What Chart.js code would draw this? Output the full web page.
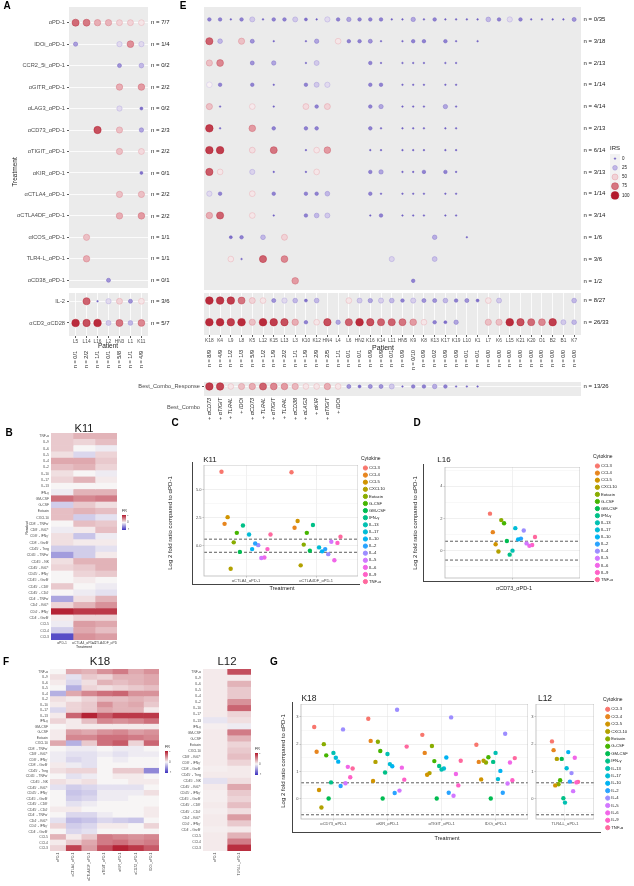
<!DOCTYPE html>
<html><head><meta charset="utf-8">
<script src="https://cdn.jsdelivr.net/npm/chart.js@4.4.1/dist/chart.umd.min.js"></script>
<style>
body{margin:0;background:#fff;}
#fig{position:relative;width:634px;height:886px;overflow:hidden;font-family:"Liberation Sans",Arial,sans-serif;color:#1a1a1a;}
canvas{position:absolute;}
.t{position:absolute;white-space:nowrap;line-height:1;}
.frame{position:absolute;border-left:1px solid #444;border-bottom:1px solid #444;}
</style></head><body><div id="fig"></div><script>
const _ = null;

// ---------- A / E : IRS per patient and treatment ----------
const treatments = ['αPD-1','IDOi_αPD-1','CCR2_5i_αPD-1','αGITR_αPD-1','αLAG3_αPD-1','αCD73_αPD-1','αTIGIT_αPD-1','αKIR_αPD-1','αCTLA4_αPD-1','αCTLA4DF_αPD-1','αICOS_αPD-1','TLR4-L_αPD-1','αCD38_αPD-1'];
const controls = ['IL-2','αCD3_αCD28'];

const patientsA = ['L5','L14','L16','L2','HN3','L1','K11'];
const irsA = [
  [78,74,60,58,50,50,45],
  [18,_,_,_,35,68,35],
  [_,_,_,_,15,_,25],
  [_,_,_,_,60,_,65],
  [_,_,_,_,35,_,5],
  [_,_,85,_,55,_,20],
  [_,_,_,_,55,_,48],
  [_,_,_,_,_,_,5],
  [_,_,_,_,55,_,55],
  [_,_,_,_,60,_,65],
  [_,55,_,_,_,_,_],
  [_,60,_,_,_,_,_],
  [_,_,_,15,_,_,_]
];
const irsActrl = [
  [_,80,0,35,50,15,45],
  [95,85,95,30,75,25,70]
];
const nTreatA = ['n = 7/7','n = 1/4','n = 0/2','n = 2/2','n = 0/2','n = 2/3','n = 2/2','n = 0/1','n = 2/2','n = 2/2','n = 1/1','n = 1/1','n = 0/1'];
const nCtrlA = ['n = 3/6','n = 5/7'];
const nPatientA = ['n = 0/1','n = 2/2','n = 1/1','n = 0/1','n = 5/8','n = 1/1','n = 4/9'];

const patientsE = ['K18','K4','L9','L8','K5','L12','K15','L13','L3','K10','K12','HN4','L4','L6','HN2','K16','K14','L11','HN5','K9','K8','K13','K17','K19','L10','K1','L7','K6','L15','K21','K20','O1','B2','B1','K7'];
const irsE = [
  [10,10,0,10,30,0,10,10,30,5,0,35,10,20,10,10,10,0,0,20,0,10,0,0,0,0,25,10,35,10,0,0,0,0,15],
  [80,25,_,55,15,_,0,_,_,0,20,_,45,10,10,15,0,_,0,10,10,_,10,0,_,0,_,_,_,_,_,_,_,_,_],
  [55,70,_,_,15,_,20,_,_,0,30,_,_,_,_,10,0,_,0,0,0,_,0,0,_,_,_,_,_,_,_,_,_,_,_],
  [42,10,_,_,10,_,0,_,_,10,30,35,_,_,_,10,10,_,0,0,0,_,0,0,_,_,_,_,_,_,_,_,_,_,_],
  [55,0,_,_,44,_,0,_,_,48,10,50,_,_,_,10,20,_,0,0,0,_,20,0,_,_,_,_,_,_,_,_,_,_,_],
  [90,0,_,_,65,_,10,_,_,10,10,_,_,_,_,10,0,_,0,0,0,_,0,0,_,_,_,_,_,_,_,_,_,_,_],
  [90,90,_,_,47,_,75,_,_,0,45,65,_,_,_,0,0,_,0,0,0,_,0,0,_,_,_,_,_,_,_,_,_,_,_],
  [82,45,_,_,33,_,0,_,_,0,45,_,_,_,_,10,20,_,0,0,10,_,10,0,_,_,_,_,_,_,_,_,_,_,_],
  [35,10,_,_,45,_,10,_,_,10,10,25,_,_,_,10,0,_,0,0,0,_,0,0,_,_,_,_,_,_,_,_,_,_,_],
  [60,80,_,_,45,_,0,_,_,10,25,30,_,_,_,0,10,_,0,0,0,_,0,0,_,_,_,_,_,_,_,_,_,_,_],
  [_,_,5,10,_,25,_,50,_,_,_,_,_,_,_,_,_,_,_,_,_,22,_,_,0,_,_,_,_,_,_,_,_,_,_],
  [_,_,45,0,_,80,_,70,_,_,_,_,_,_,_,_,_,33,_,_,_,28,_,_,_,_,_,_,_,_,_,_,_,_,_],
  [_,_,_,_,_,_,_,_,65,_,_,_,_,_,_,_,_,_,_,10,_,_,_,_,_,_,_,_,_,_,_,_,_,_,_]
];
const irsEctrl = [
  [95,92,90,75,50,45,15,35,25,5,25,_,_,45,30,20,32,25,10,32,15,15,25,10,15,5,45,30,_,_,_,_,_,_,25],
  [95,95,90,95,55,95,90,85,60,10,45,85,20,80,95,85,80,80,75,65,45,10,5,20,_,_,55,55,95,85,78,70,90,30,25]
];
const nTreatE = ['n = 0/35','n = 3/18','n = 2/13','n = 1/14','n = 4/14','n = 2/13','n = 6/14','n = 3/13','n = 1/14','n = 3/14','n = 1/6','n = 3/6','n = 1/2'];
const nCtrlE = ['n = 8/27','n = 26/33'];
const nPatientE = ['n = 8/9','n = 4/9','n = 1/2','n = 1/3','n = 5/9','n = 1/2','n = 1/9','n = 2/2','n = 1/1','n = 1/9','n = 2/9','n = 2/5','n = 1/1','n = 0/1','n = 0/1','n = 0/9','n = 0/9','n = 0/1','n = 0/9','n = 0/10','n = 0/9','n = 0/2','n = 0/9','n = 0/9','n = 0/1','n = 0/1','n = 0/0','n = 0/0','n = 0/0','n = 0/0','n = 0/0','n = 0/0','n = 0/0','n = 0/0','n = 0/0'];
const bestCombo = ['+ αCD73','+ αTIGIT','+ TLR4L','+ IDOi','+ αCD73','+ TLR4L','+ αTIGIT','+ TLR4L','+ αCD38','+ αLAG3','+ αKIR','+ αTIGIT','+ IDOi','','','','','','','','','','','','','','','','','','','','','',''];
const bestComboIrs = [90,88,45,55,60,80,70,65,57,45,45,60,45,15,5,15,15,30,0,10,10,22,10,0,0,0,_,_,_,_,_,_,_,_,_];
const irsKeys = [0,25,50,75,100];

// ---------- B / F : fold-ratio heatmaps ----------
const readoutsK = ['TNF-α','IL-9','IL-6','IL-5','IL-4','IL-2','IL-10','IL-17','IL-13','IFN-γ','GM-CSF','G-CSF','Eotaxin','CXCL10','CD8⁺ - TNFα⁺','CD8⁺ - Ki67⁺','CD8⁺ - IFNγ⁺','CD8⁺ - GrzB⁺','CD45⁺ - Treg','CD45⁺ - TNFα⁺','CD45⁺ - NK','CD45⁺ - Ki67⁺','CD45⁺ - IFNγ⁺','CD45⁺ - GrzB⁺','CD45⁺ - CD8⁺','CD45⁺ - CD4⁺','CD4⁺ - TNFα⁺','CD4⁺ - Ki67⁺','CD4⁺ - IFNγ⁺','CD4⁺ - GrzB⁺','CCL5','CCL4','CCL3'];
const readoutsL12 = ['TNF-α','IL-9','IL-6','IL-5','IL-4','IL-2','IL-10','IL-17','IL-13','IFN-γ','GM-CSF','G-CSF','Eotaxin','CXCL10','CD8⁺ - Ki67⁺','CD8⁺ - IFNγ⁺','CD8⁺ - GrzB⁺','CD45⁺ - Treg','CD45⁺ - NK','CD45⁺ - Ki67⁺','CD45⁺ - IFNγ⁺','CD45⁺ - GrzB⁺','CD45⁺ - CD8⁺','CD45⁺ - CD4⁺','CD4⁺ - Ki67⁺','CD4⁺ - IFNγ⁺','CD4⁺ - GrzB⁺','CCL5','CCL4','CCL3'];
const treatK11 = ['αPD-1','αCTLA4_αPD-1','αCTLA4DF_αPD-1'];
const treatK18 = ['αPD-1','αCTLA4_αPD-1','αCTLA4DF_αPD-1','αTIGIT_αPD-1','αKIR_αPD-1','αCD73_αPD-1','IDOi_αPD-1'];
const treatL12 = ['αPD-1','TLR4-L_αPD-1'];
const heatK11 = [
  [0.2,0.3,0.3],[0.2,0.15,0.25],[0.2,0,-0.05],[0.1,-0.15,0.15],[0.35,0.35,0.2],[0.25,0.3,0.15],
  [0.1,0,-0.05],[0.15,0.3,0.05],[0,0,0],[-0.05,0.3,0.3],[0.6,0.5,0.55],[-0.2,0.2,0.1],
  [0.25,0.3,0.25],[0.25,-0.2,-0.1],[0,0.25,0.2],[-0.05,0.05,0.25],[0.1,-0.25,-0.05],[0.1,0.05,0.05],
  [-0.2,-0.2,-0.1],[-0.45,-0.2,0.05],[0.1,0.3,0.3],[0.15,0.2,0.3],[0,0.15,0.2],[0,0.05,0],
  [0.2,0,-0.05],[0,-0.05,-0.1],[-0.4,0.1,0.3],[0.15,0.3,0.45],[0.95,0.85,0.85],[0.05,0.15,0.15],
  [-0.05,0.4,0.35],[-0.2,0.35,0.25],[-0.85,0.45,0.4]
];
const heatK18 = [
  [0,0.35,0.3,0.45,0.55,0.35,0.45],[0.1,-0.1,0.2,0.15,0.3,0.3,0.35],[0.05,-0.15,0.1,0.3,0.25,0.3,0.35],
  [0,-0.35,0.15,0.1,0.15,0.2,0.25],[-0.35,0.35,0.5,0.6,0.65,0.45,0.45],[0.1,0.05,0.15,0.25,0.25,0.3,0.25],
  [0.05,0.15,0.2,0.45,0.3,0.35,0.2],[-0.15,0.15,0.2,0.35,0.3,0.3,0.05],[0.05,0.65,0.95,0.7,0.85,0.85,0.85],
  [0.15,0.05,0.25,0.5,0.45,0.5,0.6],[0,0.05,0.05,0.05,0.05,0.05,0.05],[0.05,0.4,0.35,0.45,0.5,0.4,0.45],
  [0.05,0.5,0.5,0.6,0.6,0.55,0.5],[0.35,-0.35,0.2,0.6,0.7,0.15,0.65],[0,-0.05,-0.05,0,-0.05,-0.05,0],
  [-0.05,-0.1,-0.1,-0.05,-0.1,-0.05,-0.05],[-0.05,-0.15,-0.1,0,-0.05,0,0],[0.05,-0.05,-0.1,0,0,0,0],
  [0.1,0.15,0.15,0,0.2,0.2,-0.55],[0,-0.1,-0.05,0,0.05,0.05,0],[0.1,0.05,0.1,0,0,0.05,0.05],
  [-0.1,-0.2,-0.15,-0.1,-0.1,-0.1,0],[0,-0.25,-0.2,-0.05,-0.05,-0.05,0.1],[0,-0.2,-0.15,-0.05,-0.05,0,0],
  [0,-0.1,-0.05,0,0,0,0],[0.05,0.05,0,0,0,0,0.05],[0,-0.15,-0.15,-0.05,0,0,0.05],
  [-0.1,-0.3,-0.25,-0.15,-0.2,-0.25,0],[0.15,-0.2,-0.15,0.05,0.05,0,0.15],[0,-0.15,-0.1,0,0,0,0],
  [0.3,0.05,0.2,0.55,0.5,0.45,0.5],[0.05,0.2,0.35,0.55,0.6,0.5,0.55],[0.15,0.8,0.4,0.75,0.95,0.85,0.7]
];
const heatL12 = [
  [0.05,0.75],[0.05,0.05],[0.05,0.3],[0.05,0.2],[0.05,0.2],[0.05,0.45],[0.05,0.65],[0.05,0.15],
  [-0.08,0.1],[0.03,-0.05],[0.05,0.55],[0.05,0.3],[0.05,0.15],[0.05,0.2],[0.05,0.25],[0.05,0.15],
  [0.03,0.05],[0.05,0.05],[-0.1,0.1],[0.05,0.35],[0.03,0.2],[0.03,0.15],[0.05,0.25],[0.03,0.1],
  [0.05,0.4],[0.05,0.2],[0.03,0.05],[0.05,0.3],[0.05,0.55],[0.05,0.9]
];
const frTicks = [-1,0,1];

// ---------- C / D / G : log2 fold ratio vs αPD-1 ----------
const cytokines = ['CCL3','CCL4','CCL5','CXCL10','Eotaxin','G-CSF','GM-CSF','IFN-γ','IL-13','IL-17','IL-10','IL-2','IL-4','IL-5','IL-6','IL-9','TNF-α'];
const cutoffs = [0.585, -0.585];
const treatC = ['αCTLA4_αPD-1','αCTLA4DF_αPD-1'];
const k11CTLA4 = [6.6,1.95,2.55,-2.05,0.3,1.15,-0.55,1.8,_,1.0,-0.3,0.2,0.05,-1.1,-1.05,-0.3,1.0];
const k11CTLA4DF = [6.55,1.6,2.2,-1.75,0.1,1.15,-0.45,1.85,_,-0.15,-0.5,-0.3,-0.75,0.35,-1.3,0.25,0.8];
const l16CD73 = [2.3,1.15,0.4,-0.05,1.9,1.7,0.6,-0.25,0.0,1.4,0.7,0.75,1.25,0.45,0.3,0.35,0.85];
const treatG = ['αCD73_αPD-1','αKIR_αPD-1','αTIGIT_αPD-1','IDOi_αPD-1'];
const k18CD73 = [2.63,1.72,0.32,-0.32,2.0,1.59,0.01,0.6,1.68,1.5,1.36,0.47,2.54,0.57,1.17,0.79,1.11];
const k18KIR = [2.93,2.12,0.65,1.35,2.09,1.75,0.01,0.96,1.64,1.27,1.19,0.21,3.26,0.3,1.14,0.7,1.91];
const k18TIGIT = [2.34,1.68,0.88,0.94,1.93,1.38,0.01,1.2,1.07,1.11,1.51,0.22,2.98,0.11,0.91,0.49,1.39];
const k18IDOi = [1.98,1.35,0.71,1.39,1.33,1.52,0.01,1.35,1.68,0.72,1.02,0.22,2.38,0.56,1.33,0.68,1.49];
const l12TLR4 = [2.1,1.78,0.49,1.46,0.53,0.68,1.46,0.02,-0.14,1.12,1.71,0.63,0.94,0.28,1.5,0.6,0.62];

// ---------- styling helpers ----------
const hue = ['#F8766D','#E7851E','#D09400','#B2A100','#89AC00','#45B500','#00BC51','#00C087','#00C0B2','#00BCD6','#00B3F2','#29A3FF','#9C8DFF','#D277FF','#F166E8','#FF61C7','#FF689E'];

function hex2rgb(h) { return [1, 3, 5].map(i => parseInt(h.slice(i, i + 2), 16)); }
function ramp(stops) {
  const s = stops.map(([p, h]) => [p, hex2rgb(h)]);
  return v => {
    v = Math.max(s[0][0], Math.min(s[s.length - 1][0], v));
    let k = 1;
    while (k < s.length - 1 && v > s[k][0]) k++;
    const [p0, c0] = s[k - 1], [p1, c1] = s[k];
    const t = (v - p0) / (p1 - p0);
    return 'rgb(' + c0.map((a, j) => Math.round(a + (c1[j] - a) * t)).join(',') + ')';
  };
}
const irsColor = ramp([[0, '#6f5ec2'], [25, '#c2b8e6'], [42, '#f8f1f3'], [65, '#e39aa2'], [100, '#b2182b']]);
const irsEdge = v => irsColor(v <= 42 ? v - 14 : v + 14);
const irsRadius = v => 0.8 + 3.1 * Math.sqrt(v / 100);
const heatColor = ramp([[-1, '#3b2fbf'], [0, '#f7f5f5'], [1, '#b2182b']]);

Chart.defaults.font.family = '"Liberation Sans", Arial, sans-serif';
Chart.defaults.color = '#4d4d4d';
Chart.defaults.animation = false;
Chart.defaults.responsive = false;
Chart.defaults.maintainAspectRatio = false;
Chart.defaults.events = [];
Chart.defaults.layout.autoPadding = false;
Chart.defaults.plugins.legend.display = false;
Chart.defaults.plugins.tooltip.enabled = false;

Chart.register({
  id: 'panelBg',
  beforeDraw(chart, args, opts) {
    const a = chart.chartArea, c = chart.ctx;
    if (opts.fill) { c.save(); c.fillStyle = opts.fill; c.fillRect(a.left, a.top, a.width, a.height); c.restore(); }
  },
  afterDraw(chart, args, opts) {
    const a = chart.chartArea, c = chart.ctx;
    if (opts.stroke) { c.save(); c.strokeStyle = opts.stroke; c.lineWidth = 0.8; c.strokeRect(a.left, a.top, a.width, a.height); c.restore(); }
  }
});

const fig = document.getElementById('fig');
function makeCanvas(x, y, w, h) {
  const c = document.createElement('canvas');
  c.width = Math.round(w); c.height = Math.round(h);
  c.style.left = Math.round(x) + 'px'; c.style.top = Math.round(y) + 'px';
  fig.appendChild(c);
  return c;
}
function text(str, x, y, o = {}) {
  const d = document.createElement('div');
  d.className = 't';
  d.textContent = str;
  d.style.left = x + 'px'; d.style.top = y + 'px';
  d.style.fontSize = (o.size || 6) + 'px';
  if (o.bold) d.style.fontWeight = 'bold';
  if (o.color) d.style.color = o.color;
  const ax = o.align === 'left' ? '0' : o.align === 'right' ? '-100%' : '-50%';
  d.style.transform = 'translate(' + ax + ',-50%)' + (o.rot ? ' rotate(' + o.rot + 'deg)' : '');
  fig.appendChild(d);
}
function frame(x0, y0, x1, y1) {
  const d = document.createElement('div');
  d.className = 'frame';
  d.style.left = x0 + 'px'; d.style.top = y0 + 'px';
  d.style.width = (x1 - x0) + 'px'; d.style.height = (y1 - y0) + 'px';
  fig.appendChild(d);
}
function axisFit(size) {
  return s => {
    if (s.isHorizontal()) s.height = size; else s.width = size;
    s.paddingTop = 0; s.paddingBottom = 0; s.paddingLeft = 0; s.paddingRight = 0;
  };
}
function fixedTicks(values) { return s => { s.ticks = values.map(v => ({ value: v })); }; }

// ---------- bubble grid (A, E) ----------
function bubbleGrid(o) {
  const lw = o.leftW || 0, rw = o.rightW || 0, bh = o.bottomH || 0, b2h = o.bottom2H || 0;
  const cv = makeCanvas(o.x - lw, o.y, lw + o.w + rw, o.h + bh + b2h);
  const pts = [];
  o.vals.forEach((row, r) => row.forEach((v, c) => {
    if (v !== null) pts.push({ x: c, y: r, r: irsRadius(v), v: v });
  }));
  const cols = o.cols.map((_, i) => i), rows = o.vals.map((_, i) => i);
  const scales = {
    x: {
      type: 'linear', min: o.xr[0], max: o.xr[1],
      afterBuildTicks: fixedTicks(cols), afterFit: axisFit(bh),
      grid: { color: '#fff', lineWidth: 0.8, drawTicks: !!o.xLabels, tickLength: 2, tickColor: '#333' },
      border: { display: false },
      ticks: { display: !!o.xLabels, autoSkip: false, maxRotation: 0, padding: 1, font: { size: 4.8 }, color: '#4d4d4d', callback: v => (o.xLabels || [])[v] }
    },
    y: {
      type: 'linear', reverse: true, min: o.yr[0], max: o.yr[1],
      afterBuildTicks: fixedTicks(rows), afterFit: axisFit(lw),
      grid: { color: '#fff', lineWidth: 0.8, drawTicks: lw > 0, tickLength: 2, tickColor: '#333' },
      border: { display: false },
      ticks: { display: !!o.yLabels, autoSkip: false, padding: 2, font: { size: o.ySize || 5.7 }, color: '#4d4d4d', callback: v => (o.yLabels || [])[v] }
    }
  };
  if (o.nRight) scales.y2 = {
    position: 'right', type: 'linear', reverse: true, min: o.yr[0], max: o.yr[1],
    afterBuildTicks: fixedTicks(rows), afterFit: axisFit(rw),
    grid: { display: false, drawTicks: false }, border: { display: false },
    ticks: { autoSkip: false, padding: o.rpad || 3, font: { size: o.rSize || 6 }, color: '#1a1a1a', callback: v => o.nRight[v] }
  };
  if (o.nBottom) scales.x2 = {
    position: 'bottom', weight: 1, type: 'linear', min: o.xr[0], max: o.xr[1],
    afterBuildTicks: fixedTicks(cols), afterFit: axisFit(b2h),
    grid: { display: false, drawTicks: false }, border: { display: false },
    ticks: { autoSkip: false, minRotation: 90, maxRotation: 90, padding: o.b2pad || 1,
      font: { size: 5.5, style: o.italic ? 'italic' : 'normal' }, color: '#1a1a1a', callback: v => o.nBottom[v] }
  };
  new Chart(cv, {
    type: 'bubble',
    data: { datasets: [{
      data: pts,
      backgroundColor: c => c.raw ? irsColor(c.raw.v) : '#ccc',
      borderColor: c => c.raw ? irsEdge(c.raw.v) : '#ccc',
      borderWidth: 0.5
    }] },
    options: { plugins: { panelBg: { fill: o.bg || '#ebebeb' } }, scales: scales }
  });
}

// ---------- heatmap (B, F) ----------
function heatmap(o) {
  const cv = makeCanvas(o.x - o.yw, o.y, o.yw + o.w, o.h + o.xh);
  new Chart(cv, {
    type: 'bar',
    data: {
      labels: o.rows,
      datasets: o.cols.map((c, j) => ({
        label: c, data: o.rows.map(() => 1),
        backgroundColor: o.vals.map(r => heatColor(r[j])),
        barPercentage: 1, categoryPercentage: 1, borderWidth: 0
      }))
    },
    options: {
      indexAxis: 'y',
      scales: {
        x: { stacked: true, min: 0, max: o.cols.length,
          afterBuildTicks: fixedTicks(o.cols.map((_, j) => j + 0.5)), afterFit: axisFit(o.xh),
          grid: { display: false, drawTicks: false }, border: { display: false },
          ticks: { autoSkip: false, minRotation: o.rot, maxRotation: o.rot, padding: 1.5, font: { size: 3.4 }, color: '#4d4d4d', callback: v => o.cols[Math.floor(v)] } },
        y: { stacked: true, afterFit: axisFit(o.yw),
          grid: { display: false, drawTicks: false }, border: { display: false },
          ticks: { autoSkip: false, padding: 2, font: { size: 3.4 }, color: '#4d4d4d' } }
      }
    }
  });
}
function colorbar(x, y, w, h, lo, hi, ticks) {
  const cv = makeCanvas(x, y, w + 8, h);
  new Chart(cv, {
    type: 'bar',
    data: { labels: ['FR'], datasets: [{
      data: [[lo, hi]], barPercentage: 1, categoryPercentage: 1, borderWidth: 0,
      backgroundColor: ctx => {
        const a = ctx.chart.chartArea;
        if (!a) return '#fff';
        const g = ctx.chart.ctx.createLinearGradient(0, a.bottom, 0, a.top);
        for (let i = 0; i <= 10; i++) g.addColorStop(i / 10, heatColor(lo + (hi - lo) * i / 10));
        return g;
      }
    }] },
    options: { scales: {
      x: { display: false },
      y: { position: 'right', min: lo, max: hi, afterBuildTicks: fixedTicks(ticks), afterFit: axisFit(8),
        grid: { display: false, drawTicks: false }, border: { display: false },
        ticks: { autoSkip: false, padding: 1, font: { size: 3 }, color: '#4d4d4d' } }
    } }
  });
}

// ---------- dot panels (C, D, G) ----------
function dotPanel(o) {
  const cv = makeCanvas(o.x - o.yw, o.y, o.yw + o.w, o.h + o.xh);
  const sets = cytokines.map((name, i) => ({
    label: name,
    data: o.series.map((s, t) => s[i] === null ? null : { x: t + 1 + (i - 8) * o.step, y: s[i] }).filter(p => p),
    backgroundColor: hue[i], borderWidth: 0, pointRadius: 2.2
  }));
  cutoffs.forEach(c => sets.push({
    type: 'line', data: [{ x: o.xr[0], y: c }, { x: o.xr[1], y: c }],
    borderColor: '#333', borderWidth: 0.8, borderDash: [3, 2], pointRadius: 0
  }));
  const major = v => o.yMajor.includes(v);
  new Chart(cv, {
    type: 'scatter',
    data: { datasets: sets },
    options: {
      plugins: { panelBg: { fill: '#fff', stroke: '#b8b8b8' } },
      scales: {
        x: { type: 'linear', min: o.xr[0], max: o.xr[1],
          afterBuildTicks: fixedTicks(o.cats.map((_, t) => t + 1)), afterFit: axisFit(o.xh),
          grid: { color: '#e8e8e8', lineWidth: 0.6, tickLength: 1.5, tickColor: '#999' }, border: { display: false },
          ticks: { autoSkip: false, maxRotation: 0, padding: 1, font: { size: 4 }, color: '#4d4d4d', callback: v => o.cats[v - 1] } },
        y: { type: 'linear', min: o.yr[0], max: o.yr[1],
          afterBuildTicks: fixedTicks(o.yTicks), afterFit: axisFit(o.yw),
          grid: { color: c => (c.tick && major(c.tick.value)) ? '#e6e6e6' : '#f4f4f4', lineWidth: 0.6, tickLength: 1.5,
            tickColor: c => (c.tick && major(c.tick.value)) ? '#999' : 'rgba(0,0,0,0)' },
          border: { display: false },
          ticks: { autoSkip: false, padding: 1, font: { size: 4 }, color: '#4d4d4d', callback: v => major(v) ? o.fmt(v) : '' } }
      }
    }
  });
}
function cytokineLegend(x, y, w, h, o) {
  const cv = makeCanvas(x, y, w, h);
  new Chart(cv, {
    type: 'scatter',
    data: { datasets: cytokines.map((name, i) => ({ label: name, data: [], backgroundColor: hue[i], borderColor: hue[i], pointStyle: 'circle' })) },
    options: {
      scales: { x: { display: false }, y: { display: false } },
      plugins: { legend: {
        display: true, position: 'left', align: 'start',
        title: { display: true, text: 'Cytokine', position: 'start', color: '#1a1a1a', font: { size: o.tsize }, padding: { top: 0, bottom: 1 } },
        labels: { usePointStyle: true, boxWidth: o.box, boxHeight: o.box, padding: o.pad, color: '#1a1a1a', font: { size: o.fsize } }
      } }
    }
  });
}

// ===== A =====
bubbleGrid({ x: 69, y: 7, w: 79, h: 281, leftW: 69, rightW: 35, cols: patientsA, vals: irsA,
  xr: [-0.6, 6.6], yr: [-0.73, 12.36], yLabels: treatments, nRight: nTreatA });
bubbleGrid({ x: 69, y: 293, w: 79, h: 43, leftW: 69, rightW: 35, bottomH: 14, bottom2H: 22, cols: patientsA, vals: irsActrl,
  xr: [-0.6, 6.6], yr: [-0.38, 1.6], yLabels: controls, nRight: nCtrlA, xLabels: patientsA, nBottom: nPatientA });

// ===== E =====
bubbleGrid({ x: 204, y: 7, w: 377, h: 283, leftW: 3, rightW: 40, rpad: 2.5, cols: patientsE, vals: irsE,
  xr: [-0.5, 34.64], yr: [-0.57, 12.42], nRight: nTreatE });
bubbleGrid({ x: 204, y: 293, w: 377, h: 42, leftW: 3, rightW: 40, rpad: 2.5, bottomH: 14, bottom2H: 22, cols: patientsE, vals: irsEctrl,
  xr: [-0.5, 34.64], yr: [-0.35, 1.59], nRight: nCtrlE, xLabels: patientsE, nBottom: nPatientE });
bubbleGrid({ x: 204, y: 382, w: 377, h: 14, leftW: 100, rightW: 40, rpad: 2.5, bottom2H: 28, b2pad: 2, italic: true, cols: patientsE, vals: [bestComboIrs],
  xr: [-0.5, 34.64], yr: [-0.32, 0.68], yLabels: ['Best_Combo_Response'], nRight: ['n = 13/26'], nBottom: bestCombo });
bubbleGrid({ x: 610, y: 154, w: 10, h: 46, rightW: 14, rpad: 2, rSize: 4.5, cols: [''], vals: irsKeys.map(v => [v]), bg: '#f2f2f2',
  xr: [-0.5, 0.5], yr: [-0.5, 4.5], nRight: irsKeys.map(String) });

// ===== B / F heatmaps =====
heatmap({ x: 51, y: 433, w: 66, h: 207, yw: 51, xh: 8, rot: 0, rows: readoutsK, cols: treatK11, vals: heatK11 });
colorbar(122, 515, 3.5, 15, -1, 1, frTicks);
heatmap({ x: 50, y: 669, w: 109, h: 182, yw: 50, xh: 34, rot: 90, rows: readoutsK, cols: treatK18, vals: heatK18 });
colorbar(165, 751, 3, 22, -1, 1, frTicks);
heatmap({ x: 203, y: 669, w: 48, h: 182, yw: 30, xh: 34, rot: 90, rows: readoutsL12, cols: treatL12, vals: heatL12 });
colorbar(255, 753, 3, 22, -1, 1, frTicks);

// ===== C / D / G dot plots =====
dotPanel({ x: 204, y: 465, w: 154, h: 111, yw: 11, xh: 8, cats: treatC, series: [k11CTLA4, k11CTLA4DF], step: 0.04375,
  xr: [0.4, 2.6], yr: [-2.7, 7.2], yTicks: [-1.25, 0, 1.25, 2.5, 3.75, 5, 6.25], yMajor: [0, 2.5, 5], fmt: v => v.toFixed(1) });
cytokineLegend(361, 456, 80, 170, { tsize: 5, fsize: 4.2, box: 3, pad: 2.9 });
dotPanel({ x: 445, y: 467, w: 135, h: 111, yw: 8, xh: 2, cats: [''], series: [l16CD73], step: 0.025,
  xr: [0.4, 1.6], yr: [-1.7, 5.2], yTicks: [-1, 0, 1, 2, 3, 4, 5], yMajor: [0, 2, 4], fmt: v => String(v) });
cytokineLegend(593, 454, 80, 170, { tsize: 5, fsize: 4.2, box: 3, pad: 2.9 });
dotPanel({ x: 301, y: 704, w: 227, h: 115, yw: 8, xh: 8, cats: treatG, series: [k18CD73, k18KIR, k18TIGIT, k18IDOi], step: 0.0444,
  xr: [0.4, 4.6], yr: [-0.74, 3.47], yTicks: [-0.5, 0, 0.5, 1, 1.5, 2, 2.5, 3], yMajor: [0, 1, 2, 3], fmt: v => String(v) });
dotPanel({ x: 536, y: 704, w: 58, h: 115, yw: 8, xh: 8, cats: ['TLR4-L_αPD-1'], series: [l12TLR4], step: 0.0337,
  xr: [0.4, 1.6], yr: [-0.74, 3.47], yTicks: [-0.5, 0, 0.5, 1, 1.5, 2, 2.5, 3], yMajor: [0, 1, 2, 3], fmt: v => String(v) });
cytokineLegend(603, 697, 80, 180, { tsize: 5, fsize: 4.2, box: 3, pad: 3.2 });

frame(192, 462, 359, 584);
frame(423, 464, 593, 581);
frame(292, 702, 600, 832);

// ===== text =====
text('A', 7, 6, { size: 10, bold: true, color: '#000' });
text('E', 183, 6, { size: 10, bold: true, color: '#000' });
text('Treatment', 15, 172, { size: 6.5, rot: -90 });
text('Patient', 108, 346, { size: 6.5 });
text('Patient', 383, 346.5, { size: 7 });
text('Best_Combo', 200, 408, { size: 5.7, align: 'right', color: '#4d4d4d' });
text('IRS', 610, 148, { size: 6, align: 'left' });
text('B', 9, 433, { size: 10, bold: true, color: '#000' });
text('K11', 84, 428, { size: 11 });
text('Readout', 28, 528, { size: 3.5, rot: -90 });
text('Treatment', 84, 648, { size: 3.5 });
text('FR', 122, 512, { size: 3.5, align: 'left' });
text('C', 175, 423, { size: 10, bold: true, color: '#000' });
text('K11', 210, 460, { size: 8 });
text('Log 2 fold ratio compared to αPD-1', 170, 523, { size: 6, rot: -90 });
text('Treatment', 282, 589.3, { size: 5.5 });
text('D', 417, 423, { size: 10, bold: true, color: '#000' });
text('L16', 444, 459.5, { size: 8 });
text('Log 2 fold ratio compared to αPD-1', 415, 523, { size: 6, rot: -90 });
text('αCD73_αPD-1', 514, 589, { size: 5.5 });
text('F', 6, 662, { size: 10, bold: true, color: '#000' });
text('K18', 100, 662, { size: 11.5 });
text('L12', 227, 662, { size: 11.5 });
text('FR', 165, 747.5, { size: 3.5, align: 'left' });
text('FR', 255, 750, { size: 3.5, align: 'left' });
text('G', 274, 662, { size: 10, bold: true, color: '#000' });
text('K18', 309, 697.7, { size: 8.5 });
text('L12', 545, 697.7, { size: 8.5 });
text('Log 2 fold ratio compared to αPD-1', 283, 761, { size: 6, rot: -90 });
text('Treatment', 447, 838.7, { size: 5.5 });
</script></body></html>
